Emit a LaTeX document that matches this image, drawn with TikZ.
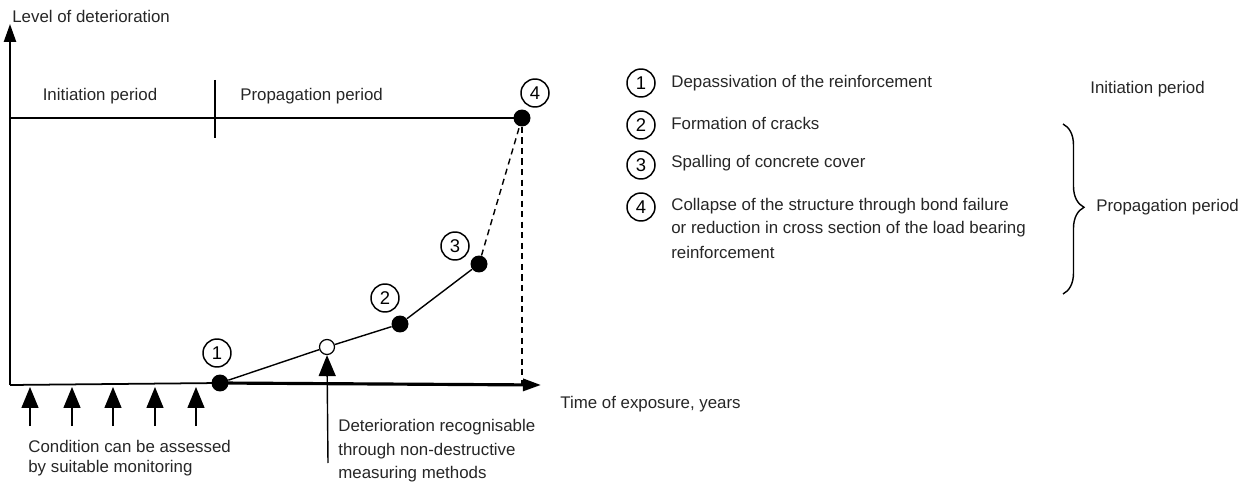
\documentclass[tikz,border=0pt]{standalone}
\usepackage{fontspec}
\setmainfont{Liberation Sans}
\usetikzlibrary{arrows.meta,decorations.pathreplacing}
\begin{document}
\begin{tikzpicture}[x=0.02cm,y=-0.02cm,
  txt/.style={font=\fontsize{9.6}{11.5}\selectfont, text=black!85, inner sep=0pt},
  lbl/.style={txt, anchor=west},
  num/.style={circle, draw, line width=0.85pt, minimum size=0.56cm, inner sep=0pt, font=\fontsize{10.5}{12}\selectfont},
  dot/.style={circle, fill=black, minimum size=0.34cm, inner sep=0pt},
  odot/.style={circle, draw, fill=white, line width=0.7pt, minimum size=0.3cm, inner sep=0pt},
  bigtip/.style={-{Triangle[length=0.42cm,width=0.34cm]}},
  axtip/.style={-{Triangle[length=0.36cm,width=0.24cm]}}]
\useasboundingbox (0,0) rectangle (1249,483);
% axes
\coordinate (O) at (10,385);
\coordinate (Ytop) at (10,24);
\coordinate (Xend) at (541,385);
\draw[line width=1.4pt, axtip] (O) -- (Ytop);
\node[lbl, anchor=south west] (ylab) at (12,23) {Level of deterioration};
% points
\node[dot] (p1) at (220,383) {};
\node[odot] (po) at (327,347) {};
\node[dot] (p2) at (400,324) {};
\node[dot] (p3) at (479,264) {};
\node[dot] (p4) at (522,118) {};
\coordinate (p4b) at (522,385);
\draw[line width=1pt] (O) -- (p1.center);
\draw[line width=1.8pt, axtip] (p1.center) -- (Xend);
\node[lbl] (xlab) at (560,404) {Time of exposure, years};
% period line
\coordinate (L0) at (10,118);
\draw[line width=0.9pt] (L0) -- (p4.center);
\coordinate (d1) at (215,80);
\coordinate (d2) at (215,138);
\draw[line width=0.9pt] (d1) -- (d2);
\node[txt] (init) at (100,96) {Initiation period};
\node[lbl] (prop) at (240,96) {Propagation period};
% curve
\draw[line width=0.8pt] (p1) -- (po) -- (p2) -- (p3);
\draw[line width=0.8pt, dash pattern=on 3.5pt off 2.5pt] (p3) -- (p4);
\draw[line width=0.8pt, dash pattern=on 3.5pt off 2.5pt] (p4.south) -- (p4b);
% numbered labels
\node[num] (n1) at (217,353) {1};
\node[num] (n2) at (385,298) {2};
\node[num] (n3) at (455,246) {3};
\node[num] (n4) at (535,93) {4};
% monitoring arrows
\foreach \i/\x in {1/30,2/72,3/113,4/155,5/196}{
  \coordinate (ma\i) at (\x,426);
  \coordinate (mb\i) at (\x,387);
  \draw[line width=0.8pt, bigtip] (ma\i) -- (mb\i);
}
\node[lbl] (mon1) at (28,446) {Condition can be assessed};
\node[lbl] (mon2) at (28,468) {by suitable monitoring};
% NDT arrow
\coordinate (nd) at (328,463);
\draw[line width=0.8pt, bigtip] (nd) -- (po.south);
\node[lbl] (ndt1) at (338,427) {Deterioration recognisable};
\node[lbl] (ndt2) at (338,451) {through non-destructive};
\node[lbl] (ndt3) at (338,474) {measuring methods};
% legend
\node[num] (l1) at (641,83) {1};
\node[num] (l2) at (641,125) {2};
\node[num] (l3) at (641,165) {3};
\node[num] (l4) at (641,207) {4};
\node[lbl] (t1) at (671,83) {Depassivation of the reinforcement};
\node[lbl] (t2) at (671,123) {Formation of cracks};
\node[lbl] (t3) at (671,163) {Spalling of concrete cover};
\node[lbl] (t4a) at (671,206) {Collapse of the structure through bond failure};
\node[lbl] (t4b) at (671,229) {or reduction in cross section of the load bearing};
\node[lbl] (t4c) at (671,252) {reinforcement};
\node[lbl] (ip) at (1090,89) {Initiation period};
\coordinate (b1) at (1063,124);
\coordinate (b2) at (1063,294);
\draw[line width=0.8pt, decorate, decoration={brace, amplitude=0.42cm, aspect=0.49}] (b1) -- (b2);
\node[lbl] (pp) at (1096,207) {Propagation period};
\end{tikzpicture}
\end{document}
